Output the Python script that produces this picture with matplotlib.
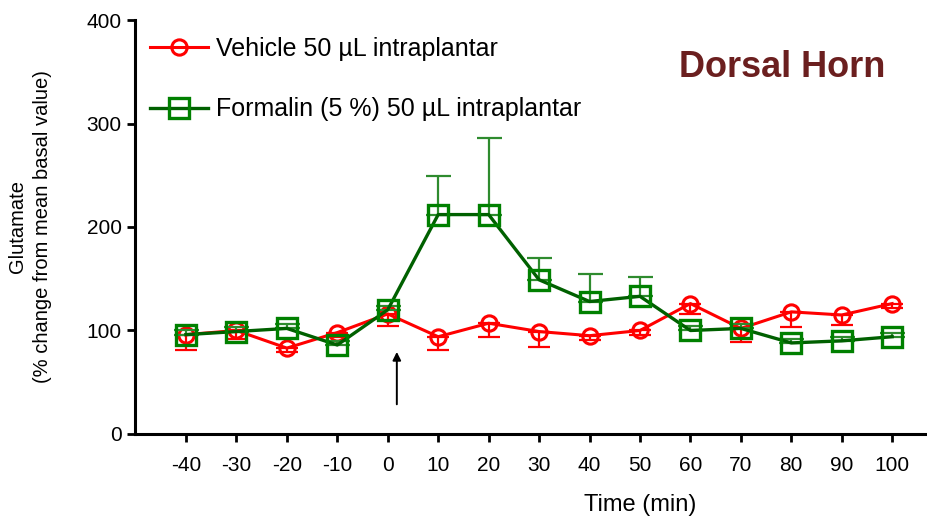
import matplotlib.pyplot as plt

# time points (min)
time_min = [-40, -30, -20, -10, 0, 10, 20, 30, 40, 50, 60, 70, 80, 90, 100]

# vehicle, mean and lower SEM
vehicle_mean = [96, 100, 83, 98, 116, 94, 107, 99, 95, 100, 126, 102, 118, 115, 126]
vehicle_err = [15, 8, 4, 4, 12, 13, 13, 15, 4, 4, 10, 13, 15, 10, 4]

# formalin, mean and upper SEM
formalin_mean = [96, 99, 102, 86, 120, 212, 212, 149, 128, 133, 100, 102, 88, 90, 94]
formalin_err = [4, 4, 4, 4, 4, 37, 74, 21, 27, 19, 4, 4, 4, 4, 4]

x_ticks = [-40, -30, -20, -10, 0, 10, 20, 30, 40, 50, 60, 70, 80, 90, 100]
y_ticks = [0, 100, 200, 300, 400]

plt.rcParams["font.family"] = ["Liberation Sans", "DejaVu Sans"]
plt.rcParams["axes.unicode_minus"] = False

fig = plt.figure(figsize=(9.28, 5.21), dpi=100)
ax = fig.add_axes([0.1455, 0.167, 0.8545, 0.7946])

zeros = [0] * len(time_min)

ax.errorbar(
    time_min, vehicle_mean, yerr=[vehicle_err, zeros],
    fmt="none", ecolor="#ff0000", elinewidth=1.6, capsize=8, capthick=1.6, zorder=2,
)
ax.plot(
    time_min, vehicle_mean, "o-", color="#ff0000", linewidth=2.2,
    markersize=11, markerfacecolor="none", markeredgewidth=2.2, zorder=3,
    label="Vehicle 50 µL intraplantar",
)

ax.errorbar(
    time_min, formalin_mean, yerr=[zeros, formalin_err],
    fmt="none", ecolor="#2e8b2e", elinewidth=1.6, capsize=9, capthick=1.6, zorder=4,
)
ax.plot(
    time_min, formalin_mean, "s-", color="#006000", linewidth=2.4,
    markersize=14, markerfacecolor="none", markeredgecolor="#008000",
    markeredgewidth=2.4, zorder=5,
    label="Formalin (5 %) 50 µL intraplantar",
)

# injection arrow
ax.annotate(
    "", xy=(1.8, 82), xytext=(1.8, 26),
    arrowprops=dict(arrowstyle="-|>", color="black", lw=1.4, mutation_scale=12),
)

ax.set_xlim(-50.1, 107.1)
ax.set_ylim(0, 400)
ax.set_xticks(x_ticks)
ax.set_yticks(y_ticks)
ax.tick_params(axis="both", direction="out", length=6, width=2, labelsize=15, colors="black")
ax.tick_params(axis="x", pad=10)
ax.spines["top"].set_visible(False)
ax.spines["right"].set_visible(False)
ax.spines["left"].set_linewidth(2.2)
ax.spines["bottom"].set_linewidth(2.2)

ax.set_xlabel("Time (min)", fontsize=17)
ax.xaxis.set_label_coords(0.637, -0.145)
ax.set_ylabel("Glutamate\n(% change from mean basal value)", fontsize=14.5, linespacing=1.4)
ax.yaxis.set_label_coords(-0.105, 0.5)

ax.legend(
    loc="upper left", bbox_to_anchor=(0.0, 0.995), frameon=False, fontsize=18,
    handlelength=2.3, handletextpad=0.35, labelspacing=1.45, borderaxespad=0.2,
)

ax.text(
    0.946, 0.885, "Dorsal Horn", transform=ax.transAxes, ha="right", va="center",
    fontsize=26, fontweight="bold", color="#6b1f1f",
)

fig.savefig("out.png", dpi=100)
